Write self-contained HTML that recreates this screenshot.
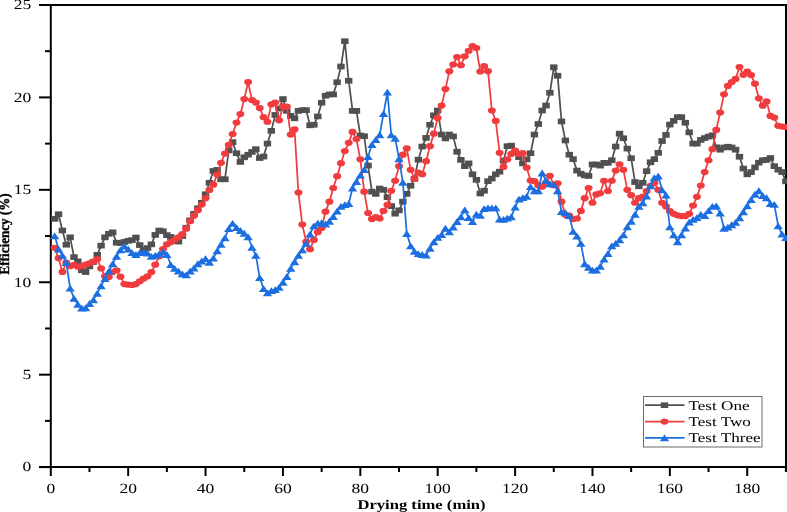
<!DOCTYPE html>
<html><head><meta charset="utf-8"><style>
html,body{margin:0;padding:0;background:#fff;}
svg{display:block;}
svg{will-change:transform;}
text{text-rendering:geometricPrecision;}
</style></head><body>
<svg width="787" height="512" viewBox="0 0 787 512">
<rect width="787" height="512" fill="#fff"/>
<g stroke="#000" stroke-width="2" fill="none" shape-rendering="auto">
<line x1="50.8" y1="4" x2="50.8" y2="468.1"/>
<line x1="39" y1="467.1" x2="787" y2="467.1"/>
<line x1="39" y1="5" x2="787" y2="5"/>
<line x1="786" y1="4" x2="786" y2="468.1"/>
<line x1="39" y1="467.10" x2="50.8" y2="467.10"/>
<line x1="39" y1="374.68" x2="50.8" y2="374.68"/>
<line x1="39" y1="282.25" x2="50.8" y2="282.25"/>
<line x1="39" y1="189.83" x2="50.8" y2="189.83"/>
<line x1="39" y1="97.40" x2="50.8" y2="97.40"/>
<line x1="39" y1="4.98" x2="50.8" y2="4.98"/>
<line x1="45" y1="420.89" x2="50.8" y2="420.89"/>
<line x1="45" y1="328.46" x2="50.8" y2="328.46"/>
<line x1="45" y1="236.04" x2="50.8" y2="236.04"/>
<line x1="45" y1="143.61" x2="50.8" y2="143.61"/>
<line x1="45" y1="51.19" x2="50.8" y2="51.19"/>
<line x1="50.80" y1="467.1" x2="50.80" y2="476"/>
<line x1="128.18" y1="467.1" x2="128.18" y2="476"/>
<line x1="205.56" y1="467.1" x2="205.56" y2="476"/>
<line x1="282.94" y1="467.1" x2="282.94" y2="476"/>
<line x1="360.32" y1="467.1" x2="360.32" y2="476"/>
<line x1="437.70" y1="467.1" x2="437.70" y2="476"/>
<line x1="515.08" y1="467.1" x2="515.08" y2="476"/>
<line x1="592.46" y1="467.1" x2="592.46" y2="476"/>
<line x1="669.84" y1="467.1" x2="669.84" y2="476"/>
<line x1="747.22" y1="467.1" x2="747.22" y2="476"/>
<line x1="89.49" y1="467.1" x2="89.49" y2="472"/>
<line x1="166.87" y1="467.1" x2="166.87" y2="472"/>
<line x1="244.25" y1="467.1" x2="244.25" y2="472"/>
<line x1="321.63" y1="467.1" x2="321.63" y2="472"/>
<line x1="399.01" y1="467.1" x2="399.01" y2="472"/>
<line x1="476.39" y1="467.1" x2="476.39" y2="472"/>
<line x1="553.77" y1="467.1" x2="553.77" y2="472"/>
<line x1="631.15" y1="467.1" x2="631.15" y2="472"/>
<line x1="708.53" y1="467.1" x2="708.53" y2="472"/>
<line x1="785.91" y1="467.1" x2="785.91" y2="472"/>
</g>
<g font-family="Liberation Serif" font-size="14" fill="#000">
<text transform="translate(31.3,471.40) scale(1.25,1)" text-anchor="end">0</text>
<text transform="translate(31.3,378.98) scale(1.25,1)" text-anchor="end">5</text>
<text transform="translate(31.3,286.55) scale(1.25,1)" text-anchor="end">10</text>
<text transform="translate(31.3,194.13) scale(1.25,1)" text-anchor="end">15</text>
<text transform="translate(31.3,101.70) scale(1.25,1)" text-anchor="end">20</text>
<text transform="translate(31.3,9.28) scale(1.25,1)" text-anchor="end">25</text>
<text transform="translate(50.80,492.6) scale(1.25,1)" text-anchor="middle">0</text>
<text transform="translate(128.18,492.6) scale(1.25,1)" text-anchor="middle">20</text>
<text transform="translate(205.56,492.6) scale(1.25,1)" text-anchor="middle">40</text>
<text transform="translate(282.94,492.6) scale(1.25,1)" text-anchor="middle">60</text>
<text transform="translate(360.32,492.6) scale(1.25,1)" text-anchor="middle">80</text>
<text transform="translate(437.70,492.6) scale(1.25,1)" text-anchor="middle">100</text>
<text transform="translate(515.08,492.6) scale(1.25,1)" text-anchor="middle">120</text>
<text transform="translate(592.46,492.6) scale(1.25,1)" text-anchor="middle">140</text>
<text transform="translate(669.84,492.6) scale(1.25,1)" text-anchor="middle">160</text>
<text transform="translate(747.22,492.6) scale(1.25,1)" text-anchor="middle">180</text>
</g>
<text transform="translate(421.5,508.5) scale(1.24,1)" text-anchor="middle" font-family="Liberation Serif" font-weight="bold" font-size="13.4">Drying time (min)</text>
<text transform="translate(9.3,274.4) rotate(-90) scale(1,1.08)" font-family="Liberation Serif" font-weight="bold" font-size="13.1" stroke="#000" stroke-width="0.35">Efficiency (%)</text>
<polyline points="54.67,218.85 58.54,214.23 62.41,230.49 66.28,244.73 70.14,237.33 74.01,257.11 77.88,261.36 81.75,270.23 85.62,272.08 89.49,266.35 93.36,261.92 97.23,254.89 101.10,245.65 104.97,237.33 108.84,233.82 112.70,232.34 116.57,242.69 120.44,243.06 124.31,241.95 128.18,240.84 132.05,240.10 135.92,237.52 139.79,245.10 143.66,249.90 147.53,248.05 151.39,244.36 155.26,234.93 159.13,230.49 163.00,231.23 166.87,235.11 170.74,236.96 174.61,240.66 178.48,241.58 182.35,236.04 186.22,227.72 190.08,220.33 193.95,213.86 197.82,208.31 201.69,202.76 205.56,194.26 209.43,182.80 213.30,170.97 217.17,169.86 221.04,179.29 224.91,179.29 228.77,150.45 232.64,142.13 236.51,153.22 240.38,161.91 244.25,157.29 248.12,154.70 251.99,151.93 255.86,149.16 259.73,158.03 263.60,156.55 267.46,143.61 271.33,130.86 275.20,114.96 279.07,108.49 282.94,99.06 286.81,110.89 290.68,115.89 294.55,118.29 298.42,110.89 302.29,110.15 306.15,110.15 310.02,125.31 313.89,124.76 317.76,116.44 321.63,102.76 325.50,95.74 329.37,94.44 333.24,94.44 337.11,82.24 340.98,66.53 344.84,41.21 348.71,80.76 352.58,110.89 356.45,110.89 360.32,135.48 364.19,136.22 368.06,165.61 371.93,191.67 375.80,193.89 379.67,188.53 383.53,189.83 387.40,197.22 391.27,206.09 395.14,213.67 399.01,210.34 402.88,201.66 406.75,193.89 410.62,185.76 414.49,178.92 418.36,159.69 422.22,146.57 426.09,137.88 429.96,124.76 433.83,115.33 437.70,110.52 441.57,134.55 445.44,138.44 449.31,134.55 453.18,136.40 457.05,151.75 460.91,159.88 464.78,166.16 468.65,163.39 472.52,174.30 476.39,179.84 480.26,193.52 484.13,190.75 488.00,181.14 491.87,178.55 495.74,174.30 499.60,171.71 503.47,160.62 507.34,146.20 511.21,145.65 515.08,152.49 518.95,157.11 522.82,163.39 526.69,159.32 530.56,153.22 534.42,134.55 538.29,124.02 542.16,110.52 546.03,105.53 549.90,92.78 553.77,67.27 557.64,75.77 561.51,121.43 565.38,140.47 569.25,154.70 573.12,159.14 576.98,170.60 580.85,173.74 584.72,175.41 588.59,175.96 592.46,164.50 596.33,164.50 600.20,165.61 604.07,162.84 607.94,162.84 611.80,160.25 615.67,146.57 619.54,133.63 623.41,138.25 627.28,148.60 631.15,158.22 635.02,182.06 638.89,186.31 642.76,182.80 646.63,171.16 650.50,162.28 654.36,159.14 658.23,152.86 662.10,141.02 665.97,134.92 669.84,124.57 673.71,120.88 677.58,117.18 681.45,117.18 685.32,122.72 689.18,132.34 693.05,143.61 696.92,143.61 700.79,139.92 704.66,138.07 708.53,136.59 712.40,135.29 716.27,147.31 720.14,149.71 724.01,147.49 727.88,146.75 731.74,147.49 735.61,149.71 739.48,156.74 743.35,168.57 747.22,174.30 751.09,172.08 754.96,167.46 758.83,162.65 762.70,160.25 766.56,159.88 770.43,158.03 774.30,166.16 778.17,169.68 782.04,172.08 785.91,181.32" fill="none" stroke="#505050" stroke-width="1.75" stroke-linejoin="round"/>
<rect x="50.97" y="216.00" width="7.4" height="5.7" fill="#505050"/>
<rect x="54.84" y="211.38" width="7.4" height="5.7" fill="#505050"/>
<rect x="58.71" y="227.64" width="7.4" height="5.7" fill="#505050"/>
<rect x="62.58" y="241.88" width="7.4" height="5.7" fill="#505050"/>
<rect x="66.44" y="234.48" width="7.4" height="5.7" fill="#505050"/>
<rect x="70.31" y="254.26" width="7.4" height="5.7" fill="#505050"/>
<rect x="74.18" y="258.51" width="7.4" height="5.7" fill="#505050"/>
<rect x="78.05" y="267.38" width="7.4" height="5.7" fill="#505050"/>
<rect x="81.92" y="269.23" width="7.4" height="5.7" fill="#505050"/>
<rect x="85.79" y="263.50" width="7.4" height="5.7" fill="#505050"/>
<rect x="89.66" y="259.07" width="7.4" height="5.7" fill="#505050"/>
<rect x="93.53" y="252.04" width="7.4" height="5.7" fill="#505050"/>
<rect x="97.40" y="242.80" width="7.4" height="5.7" fill="#505050"/>
<rect x="101.27" y="234.48" width="7.4" height="5.7" fill="#505050"/>
<rect x="105.14" y="230.97" width="7.4" height="5.7" fill="#505050"/>
<rect x="109.00" y="229.49" width="7.4" height="5.7" fill="#505050"/>
<rect x="112.87" y="239.84" width="7.4" height="5.7" fill="#505050"/>
<rect x="116.74" y="240.21" width="7.4" height="5.7" fill="#505050"/>
<rect x="120.61" y="239.10" width="7.4" height="5.7" fill="#505050"/>
<rect x="124.48" y="237.99" width="7.4" height="5.7" fill="#505050"/>
<rect x="128.35" y="237.25" width="7.4" height="5.7" fill="#505050"/>
<rect x="132.22" y="234.67" width="7.4" height="5.7" fill="#505050"/>
<rect x="136.09" y="242.25" width="7.4" height="5.7" fill="#505050"/>
<rect x="139.96" y="247.05" width="7.4" height="5.7" fill="#505050"/>
<rect x="143.83" y="245.20" width="7.4" height="5.7" fill="#505050"/>
<rect x="147.69" y="241.51" width="7.4" height="5.7" fill="#505050"/>
<rect x="151.56" y="232.08" width="7.4" height="5.7" fill="#505050"/>
<rect x="155.43" y="227.64" width="7.4" height="5.7" fill="#505050"/>
<rect x="159.30" y="228.38" width="7.4" height="5.7" fill="#505050"/>
<rect x="163.17" y="232.26" width="7.4" height="5.7" fill="#505050"/>
<rect x="167.04" y="234.11" width="7.4" height="5.7" fill="#505050"/>
<rect x="170.91" y="237.81" width="7.4" height="5.7" fill="#505050"/>
<rect x="174.78" y="238.73" width="7.4" height="5.7" fill="#505050"/>
<rect x="178.65" y="233.19" width="7.4" height="5.7" fill="#505050"/>
<rect x="182.52" y="224.87" width="7.4" height="5.7" fill="#505050"/>
<rect x="186.38" y="217.48" width="7.4" height="5.7" fill="#505050"/>
<rect x="190.25" y="211.01" width="7.4" height="5.7" fill="#505050"/>
<rect x="194.12" y="205.46" width="7.4" height="5.7" fill="#505050"/>
<rect x="197.99" y="199.91" width="7.4" height="5.7" fill="#505050"/>
<rect x="201.86" y="191.41" width="7.4" height="5.7" fill="#505050"/>
<rect x="205.73" y="179.95" width="7.4" height="5.7" fill="#505050"/>
<rect x="209.60" y="168.12" width="7.4" height="5.7" fill="#505050"/>
<rect x="213.47" y="167.01" width="7.4" height="5.7" fill="#505050"/>
<rect x="217.34" y="176.44" width="7.4" height="5.7" fill="#505050"/>
<rect x="221.21" y="176.44" width="7.4" height="5.7" fill="#505050"/>
<rect x="225.07" y="147.60" width="7.4" height="5.7" fill="#505050"/>
<rect x="228.94" y="139.28" width="7.4" height="5.7" fill="#505050"/>
<rect x="232.81" y="150.37" width="7.4" height="5.7" fill="#505050"/>
<rect x="236.68" y="159.06" width="7.4" height="5.7" fill="#505050"/>
<rect x="240.55" y="154.44" width="7.4" height="5.7" fill="#505050"/>
<rect x="244.42" y="151.85" width="7.4" height="5.7" fill="#505050"/>
<rect x="248.29" y="149.08" width="7.4" height="5.7" fill="#505050"/>
<rect x="252.16" y="146.31" width="7.4" height="5.7" fill="#505050"/>
<rect x="256.03" y="155.18" width="7.4" height="5.7" fill="#505050"/>
<rect x="259.90" y="153.70" width="7.4" height="5.7" fill="#505050"/>
<rect x="263.76" y="140.76" width="7.4" height="5.7" fill="#505050"/>
<rect x="267.63" y="128.01" width="7.4" height="5.7" fill="#505050"/>
<rect x="271.50" y="112.11" width="7.4" height="5.7" fill="#505050"/>
<rect x="275.37" y="105.64" width="7.4" height="5.7" fill="#505050"/>
<rect x="279.24" y="96.21" width="7.4" height="5.7" fill="#505050"/>
<rect x="283.11" y="108.04" width="7.4" height="5.7" fill="#505050"/>
<rect x="286.98" y="113.04" width="7.4" height="5.7" fill="#505050"/>
<rect x="290.85" y="115.44" width="7.4" height="5.7" fill="#505050"/>
<rect x="294.72" y="108.04" width="7.4" height="5.7" fill="#505050"/>
<rect x="298.59" y="107.30" width="7.4" height="5.7" fill="#505050"/>
<rect x="302.45" y="107.30" width="7.4" height="5.7" fill="#505050"/>
<rect x="306.32" y="122.46" width="7.4" height="5.7" fill="#505050"/>
<rect x="310.19" y="121.91" width="7.4" height="5.7" fill="#505050"/>
<rect x="314.06" y="113.59" width="7.4" height="5.7" fill="#505050"/>
<rect x="317.93" y="99.91" width="7.4" height="5.7" fill="#505050"/>
<rect x="321.80" y="92.89" width="7.4" height="5.7" fill="#505050"/>
<rect x="325.67" y="91.59" width="7.4" height="5.7" fill="#505050"/>
<rect x="329.54" y="91.59" width="7.4" height="5.7" fill="#505050"/>
<rect x="333.41" y="79.39" width="7.4" height="5.7" fill="#505050"/>
<rect x="337.28" y="63.68" width="7.4" height="5.7" fill="#505050"/>
<rect x="341.14" y="38.36" width="7.4" height="5.7" fill="#505050"/>
<rect x="345.01" y="77.91" width="7.4" height="5.7" fill="#505050"/>
<rect x="348.88" y="108.04" width="7.4" height="5.7" fill="#505050"/>
<rect x="352.75" y="108.04" width="7.4" height="5.7" fill="#505050"/>
<rect x="356.62" y="132.63" width="7.4" height="5.7" fill="#505050"/>
<rect x="360.49" y="133.37" width="7.4" height="5.7" fill="#505050"/>
<rect x="364.36" y="162.76" width="7.4" height="5.7" fill="#505050"/>
<rect x="368.23" y="188.82" width="7.4" height="5.7" fill="#505050"/>
<rect x="372.10" y="191.04" width="7.4" height="5.7" fill="#505050"/>
<rect x="375.97" y="185.68" width="7.4" height="5.7" fill="#505050"/>
<rect x="379.83" y="186.98" width="7.4" height="5.7" fill="#505050"/>
<rect x="383.70" y="194.37" width="7.4" height="5.7" fill="#505050"/>
<rect x="387.57" y="203.24" width="7.4" height="5.7" fill="#505050"/>
<rect x="391.44" y="210.82" width="7.4" height="5.7" fill="#505050"/>
<rect x="395.31" y="207.49" width="7.4" height="5.7" fill="#505050"/>
<rect x="399.18" y="198.81" width="7.4" height="5.7" fill="#505050"/>
<rect x="403.05" y="191.04" width="7.4" height="5.7" fill="#505050"/>
<rect x="406.92" y="182.91" width="7.4" height="5.7" fill="#505050"/>
<rect x="410.79" y="176.07" width="7.4" height="5.7" fill="#505050"/>
<rect x="414.66" y="156.84" width="7.4" height="5.7" fill="#505050"/>
<rect x="418.52" y="143.72" width="7.4" height="5.7" fill="#505050"/>
<rect x="422.39" y="135.03" width="7.4" height="5.7" fill="#505050"/>
<rect x="426.26" y="121.91" width="7.4" height="5.7" fill="#505050"/>
<rect x="430.13" y="112.48" width="7.4" height="5.7" fill="#505050"/>
<rect x="434.00" y="107.67" width="7.4" height="5.7" fill="#505050"/>
<rect x="437.87" y="131.70" width="7.4" height="5.7" fill="#505050"/>
<rect x="441.74" y="135.59" width="7.4" height="5.7" fill="#505050"/>
<rect x="445.61" y="131.70" width="7.4" height="5.7" fill="#505050"/>
<rect x="449.48" y="133.55" width="7.4" height="5.7" fill="#505050"/>
<rect x="453.35" y="148.90" width="7.4" height="5.7" fill="#505050"/>
<rect x="457.21" y="157.03" width="7.4" height="5.7" fill="#505050"/>
<rect x="461.08" y="163.31" width="7.4" height="5.7" fill="#505050"/>
<rect x="464.95" y="160.54" width="7.4" height="5.7" fill="#505050"/>
<rect x="468.82" y="171.45" width="7.4" height="5.7" fill="#505050"/>
<rect x="472.69" y="176.99" width="7.4" height="5.7" fill="#505050"/>
<rect x="476.56" y="190.67" width="7.4" height="5.7" fill="#505050"/>
<rect x="480.43" y="187.90" width="7.4" height="5.7" fill="#505050"/>
<rect x="484.30" y="178.29" width="7.4" height="5.7" fill="#505050"/>
<rect x="488.17" y="175.70" width="7.4" height="5.7" fill="#505050"/>
<rect x="492.04" y="171.45" width="7.4" height="5.7" fill="#505050"/>
<rect x="495.90" y="168.86" width="7.4" height="5.7" fill="#505050"/>
<rect x="499.77" y="157.77" width="7.4" height="5.7" fill="#505050"/>
<rect x="503.64" y="143.35" width="7.4" height="5.7" fill="#505050"/>
<rect x="507.51" y="142.80" width="7.4" height="5.7" fill="#505050"/>
<rect x="511.38" y="149.64" width="7.4" height="5.7" fill="#505050"/>
<rect x="515.25" y="154.26" width="7.4" height="5.7" fill="#505050"/>
<rect x="519.12" y="160.54" width="7.4" height="5.7" fill="#505050"/>
<rect x="522.99" y="156.47" width="7.4" height="5.7" fill="#505050"/>
<rect x="526.86" y="150.37" width="7.4" height="5.7" fill="#505050"/>
<rect x="530.72" y="131.70" width="7.4" height="5.7" fill="#505050"/>
<rect x="534.59" y="121.17" width="7.4" height="5.7" fill="#505050"/>
<rect x="538.46" y="107.67" width="7.4" height="5.7" fill="#505050"/>
<rect x="542.33" y="102.68" width="7.4" height="5.7" fill="#505050"/>
<rect x="546.20" y="89.93" width="7.4" height="5.7" fill="#505050"/>
<rect x="550.07" y="64.42" width="7.4" height="5.7" fill="#505050"/>
<rect x="553.94" y="72.92" width="7.4" height="5.7" fill="#505050"/>
<rect x="557.81" y="118.58" width="7.4" height="5.7" fill="#505050"/>
<rect x="561.68" y="137.62" width="7.4" height="5.7" fill="#505050"/>
<rect x="565.55" y="151.85" width="7.4" height="5.7" fill="#505050"/>
<rect x="569.41" y="156.29" width="7.4" height="5.7" fill="#505050"/>
<rect x="573.28" y="167.75" width="7.4" height="5.7" fill="#505050"/>
<rect x="577.15" y="170.89" width="7.4" height="5.7" fill="#505050"/>
<rect x="581.02" y="172.56" width="7.4" height="5.7" fill="#505050"/>
<rect x="584.89" y="173.11" width="7.4" height="5.7" fill="#505050"/>
<rect x="588.76" y="161.65" width="7.4" height="5.7" fill="#505050"/>
<rect x="592.63" y="161.65" width="7.4" height="5.7" fill="#505050"/>
<rect x="596.50" y="162.76" width="7.4" height="5.7" fill="#505050"/>
<rect x="600.37" y="159.99" width="7.4" height="5.7" fill="#505050"/>
<rect x="604.24" y="159.99" width="7.4" height="5.7" fill="#505050"/>
<rect x="608.10" y="157.40" width="7.4" height="5.7" fill="#505050"/>
<rect x="611.97" y="143.72" width="7.4" height="5.7" fill="#505050"/>
<rect x="615.84" y="130.78" width="7.4" height="5.7" fill="#505050"/>
<rect x="619.71" y="135.40" width="7.4" height="5.7" fill="#505050"/>
<rect x="623.58" y="145.75" width="7.4" height="5.7" fill="#505050"/>
<rect x="627.45" y="155.37" width="7.4" height="5.7" fill="#505050"/>
<rect x="631.32" y="179.21" width="7.4" height="5.7" fill="#505050"/>
<rect x="635.19" y="183.46" width="7.4" height="5.7" fill="#505050"/>
<rect x="639.06" y="179.95" width="7.4" height="5.7" fill="#505050"/>
<rect x="642.93" y="168.31" width="7.4" height="5.7" fill="#505050"/>
<rect x="646.79" y="159.43" width="7.4" height="5.7" fill="#505050"/>
<rect x="650.66" y="156.29" width="7.4" height="5.7" fill="#505050"/>
<rect x="654.53" y="150.01" width="7.4" height="5.7" fill="#505050"/>
<rect x="658.40" y="138.17" width="7.4" height="5.7" fill="#505050"/>
<rect x="662.27" y="132.07" width="7.4" height="5.7" fill="#505050"/>
<rect x="666.14" y="121.72" width="7.4" height="5.7" fill="#505050"/>
<rect x="670.01" y="118.03" width="7.4" height="5.7" fill="#505050"/>
<rect x="673.88" y="114.33" width="7.4" height="5.7" fill="#505050"/>
<rect x="677.75" y="114.33" width="7.4" height="5.7" fill="#505050"/>
<rect x="681.62" y="119.87" width="7.4" height="5.7" fill="#505050"/>
<rect x="685.48" y="129.49" width="7.4" height="5.7" fill="#505050"/>
<rect x="689.35" y="140.76" width="7.4" height="5.7" fill="#505050"/>
<rect x="693.22" y="140.76" width="7.4" height="5.7" fill="#505050"/>
<rect x="697.09" y="137.07" width="7.4" height="5.7" fill="#505050"/>
<rect x="700.96" y="135.22" width="7.4" height="5.7" fill="#505050"/>
<rect x="704.83" y="133.74" width="7.4" height="5.7" fill="#505050"/>
<rect x="708.70" y="132.44" width="7.4" height="5.7" fill="#505050"/>
<rect x="712.57" y="144.46" width="7.4" height="5.7" fill="#505050"/>
<rect x="716.44" y="146.86" width="7.4" height="5.7" fill="#505050"/>
<rect x="720.31" y="144.64" width="7.4" height="5.7" fill="#505050"/>
<rect x="724.17" y="143.90" width="7.4" height="5.7" fill="#505050"/>
<rect x="728.04" y="144.64" width="7.4" height="5.7" fill="#505050"/>
<rect x="731.91" y="146.86" width="7.4" height="5.7" fill="#505050"/>
<rect x="735.78" y="153.89" width="7.4" height="5.7" fill="#505050"/>
<rect x="739.65" y="165.72" width="7.4" height="5.7" fill="#505050"/>
<rect x="743.52" y="171.45" width="7.4" height="5.7" fill="#505050"/>
<rect x="747.39" y="169.23" width="7.4" height="5.7" fill="#505050"/>
<rect x="751.26" y="164.61" width="7.4" height="5.7" fill="#505050"/>
<rect x="755.13" y="159.80" width="7.4" height="5.7" fill="#505050"/>
<rect x="759.00" y="157.40" width="7.4" height="5.7" fill="#505050"/>
<rect x="762.86" y="157.03" width="7.4" height="5.7" fill="#505050"/>
<rect x="766.73" y="155.18" width="7.4" height="5.7" fill="#505050"/>
<rect x="770.60" y="163.31" width="7.4" height="5.7" fill="#505050"/>
<rect x="774.47" y="166.83" width="7.4" height="5.7" fill="#505050"/>
<rect x="778.34" y="169.23" width="7.4" height="5.7" fill="#505050"/>
<rect x="782.21" y="178.47" width="7.4" height="5.7" fill="#505050"/>
<polyline points="54.67,247.87 58.54,258.22 62.41,271.90 66.28,262.66 70.14,266.17 74.01,264.87 77.88,266.72 81.75,266.17 85.62,264.69 89.49,263.40 93.36,261.55 97.23,259.14 101.10,268.39 104.97,276.33 108.84,277.07 112.70,272.08 116.57,270.23 120.44,276.70 124.31,284.10 128.18,284.65 132.05,285.02 135.92,284.10 139.79,281.33 143.66,278.55 147.53,276.33 151.39,272.08 155.26,264.69 159.13,256.37 163.00,248.98 166.87,244.36 170.74,242.14 174.61,239.73 178.48,237.33 182.35,234.19 186.22,228.64 190.08,221.25 193.95,215.70 197.82,210.16 201.69,204.61 205.56,198.33 209.43,190.01 213.30,184.65 217.17,174.48 221.04,162.84 224.91,153.59 228.77,144.91 232.64,134.00 236.51,122.54 240.38,114.04 244.25,99.06 248.12,82.06 251.99,99.99 255.86,102.58 259.73,108.12 263.60,117.18 267.46,121.80 271.33,104.42 275.20,102.58 279.07,120.32 282.94,106.27 286.81,106.64 290.68,134.55 294.55,129.38 298.42,192.60 302.29,224.58 306.15,241.77 310.02,249.16 313.89,239.92 317.76,232.16 321.63,228.09 325.50,211.64 329.37,201.66 333.24,187.98 337.11,176.15 340.98,163.21 344.84,151.01 348.71,142.87 352.58,131.97 356.45,138.99 360.32,159.32 364.19,191.67 368.06,213.12 371.93,219.03 375.80,217.18 379.67,218.48 383.53,210.90 387.40,204.80 391.27,190.75 395.14,180.77 399.01,166.16 402.88,154.70 406.75,148.42 410.62,169.86 414.49,178.73 418.36,172.63 422.22,174.30 426.09,161.17 429.96,146.20 433.83,133.63 437.70,118.10 441.57,105.53 445.44,89.08 449.31,71.34 453.18,64.50 457.05,57.10 460.91,65.24 464.78,56.36 468.65,50.82 472.52,46.20 476.39,48.05 480.26,71.52 484.13,66.16 488.00,71.15 491.87,110.52 495.74,120.88 499.60,152.86 503.47,166.90 507.34,159.32 511.21,153.96 515.08,150.64 518.95,153.96 522.82,153.22 526.69,167.64 530.56,180.58 534.42,181.14 538.29,185.20 542.16,186.68 546.03,182.62 549.90,175.78 553.77,185.20 557.64,183.36 561.51,201.66 565.38,214.78 569.25,215.70 573.12,219.03 576.98,218.48 580.85,210.90 584.72,198.14 588.59,187.98 592.46,202.76 596.33,194.45 600.20,193.34 604.07,180.77 607.94,191.12 611.80,180.77 615.67,170.60 619.54,164.32 623.41,169.86 627.28,189.83 631.15,195.19 635.02,202.76 638.89,198.14 642.76,196.66 646.63,191.12 650.50,185.76 654.36,182.99 658.23,189.83 662.10,202.76 665.97,206.46 669.84,211.08 673.71,213.86 677.58,215.33 681.45,216.07 685.32,216.07 689.18,213.86 693.05,205.54 696.92,196.85 700.79,185.57 704.66,172.08 708.53,160.25 712.40,149.16 716.27,129.93 720.14,112.56 724.01,94.26 727.88,85.94 731.74,82.06 735.61,78.92 739.48,67.08 743.35,74.85 747.22,71.52 751.09,75.03 754.96,83.72 758.83,98.32 762.70,105.72 766.56,101.47 770.43,115.89 774.30,117.55 778.17,125.87 782.04,126.61 785.91,126.98" fill="none" stroke="#f03c3f" stroke-width="1.75" stroke-linejoin="round"/>
<ellipse cx="54.67" cy="247.87" rx="4.0" ry="3.1" fill="#f03c3f"/>
<ellipse cx="58.54" cy="258.22" rx="4.0" ry="3.1" fill="#f03c3f"/>
<ellipse cx="62.41" cy="271.90" rx="4.0" ry="3.1" fill="#f03c3f"/>
<ellipse cx="66.28" cy="262.66" rx="4.0" ry="3.1" fill="#f03c3f"/>
<ellipse cx="70.14" cy="266.17" rx="4.0" ry="3.1" fill="#f03c3f"/>
<ellipse cx="74.01" cy="264.87" rx="4.0" ry="3.1" fill="#f03c3f"/>
<ellipse cx="77.88" cy="266.72" rx="4.0" ry="3.1" fill="#f03c3f"/>
<ellipse cx="81.75" cy="266.17" rx="4.0" ry="3.1" fill="#f03c3f"/>
<ellipse cx="85.62" cy="264.69" rx="4.0" ry="3.1" fill="#f03c3f"/>
<ellipse cx="89.49" cy="263.40" rx="4.0" ry="3.1" fill="#f03c3f"/>
<ellipse cx="93.36" cy="261.55" rx="4.0" ry="3.1" fill="#f03c3f"/>
<ellipse cx="97.23" cy="259.14" rx="4.0" ry="3.1" fill="#f03c3f"/>
<ellipse cx="101.10" cy="268.39" rx="4.0" ry="3.1" fill="#f03c3f"/>
<ellipse cx="104.97" cy="276.33" rx="4.0" ry="3.1" fill="#f03c3f"/>
<ellipse cx="108.84" cy="277.07" rx="4.0" ry="3.1" fill="#f03c3f"/>
<ellipse cx="112.70" cy="272.08" rx="4.0" ry="3.1" fill="#f03c3f"/>
<ellipse cx="116.57" cy="270.23" rx="4.0" ry="3.1" fill="#f03c3f"/>
<ellipse cx="120.44" cy="276.70" rx="4.0" ry="3.1" fill="#f03c3f"/>
<ellipse cx="124.31" cy="284.10" rx="4.0" ry="3.1" fill="#f03c3f"/>
<ellipse cx="128.18" cy="284.65" rx="4.0" ry="3.1" fill="#f03c3f"/>
<ellipse cx="132.05" cy="285.02" rx="4.0" ry="3.1" fill="#f03c3f"/>
<ellipse cx="135.92" cy="284.10" rx="4.0" ry="3.1" fill="#f03c3f"/>
<ellipse cx="139.79" cy="281.33" rx="4.0" ry="3.1" fill="#f03c3f"/>
<ellipse cx="143.66" cy="278.55" rx="4.0" ry="3.1" fill="#f03c3f"/>
<ellipse cx="147.53" cy="276.33" rx="4.0" ry="3.1" fill="#f03c3f"/>
<ellipse cx="151.39" cy="272.08" rx="4.0" ry="3.1" fill="#f03c3f"/>
<ellipse cx="155.26" cy="264.69" rx="4.0" ry="3.1" fill="#f03c3f"/>
<ellipse cx="159.13" cy="256.37" rx="4.0" ry="3.1" fill="#f03c3f"/>
<ellipse cx="163.00" cy="248.98" rx="4.0" ry="3.1" fill="#f03c3f"/>
<ellipse cx="166.87" cy="244.36" rx="4.0" ry="3.1" fill="#f03c3f"/>
<ellipse cx="170.74" cy="242.14" rx="4.0" ry="3.1" fill="#f03c3f"/>
<ellipse cx="174.61" cy="239.73" rx="4.0" ry="3.1" fill="#f03c3f"/>
<ellipse cx="178.48" cy="237.33" rx="4.0" ry="3.1" fill="#f03c3f"/>
<ellipse cx="182.35" cy="234.19" rx="4.0" ry="3.1" fill="#f03c3f"/>
<ellipse cx="186.22" cy="228.64" rx="4.0" ry="3.1" fill="#f03c3f"/>
<ellipse cx="190.08" cy="221.25" rx="4.0" ry="3.1" fill="#f03c3f"/>
<ellipse cx="193.95" cy="215.70" rx="4.0" ry="3.1" fill="#f03c3f"/>
<ellipse cx="197.82" cy="210.16" rx="4.0" ry="3.1" fill="#f03c3f"/>
<ellipse cx="201.69" cy="204.61" rx="4.0" ry="3.1" fill="#f03c3f"/>
<ellipse cx="205.56" cy="198.33" rx="4.0" ry="3.1" fill="#f03c3f"/>
<ellipse cx="209.43" cy="190.01" rx="4.0" ry="3.1" fill="#f03c3f"/>
<ellipse cx="213.30" cy="184.65" rx="4.0" ry="3.1" fill="#f03c3f"/>
<ellipse cx="217.17" cy="174.48" rx="4.0" ry="3.1" fill="#f03c3f"/>
<ellipse cx="221.04" cy="162.84" rx="4.0" ry="3.1" fill="#f03c3f"/>
<ellipse cx="224.91" cy="153.59" rx="4.0" ry="3.1" fill="#f03c3f"/>
<ellipse cx="228.77" cy="144.91" rx="4.0" ry="3.1" fill="#f03c3f"/>
<ellipse cx="232.64" cy="134.00" rx="4.0" ry="3.1" fill="#f03c3f"/>
<ellipse cx="236.51" cy="122.54" rx="4.0" ry="3.1" fill="#f03c3f"/>
<ellipse cx="240.38" cy="114.04" rx="4.0" ry="3.1" fill="#f03c3f"/>
<ellipse cx="244.25" cy="99.06" rx="4.0" ry="3.1" fill="#f03c3f"/>
<ellipse cx="248.12" cy="82.06" rx="4.0" ry="3.1" fill="#f03c3f"/>
<ellipse cx="251.99" cy="99.99" rx="4.0" ry="3.1" fill="#f03c3f"/>
<ellipse cx="255.86" cy="102.58" rx="4.0" ry="3.1" fill="#f03c3f"/>
<ellipse cx="259.73" cy="108.12" rx="4.0" ry="3.1" fill="#f03c3f"/>
<ellipse cx="263.60" cy="117.18" rx="4.0" ry="3.1" fill="#f03c3f"/>
<ellipse cx="267.46" cy="121.80" rx="4.0" ry="3.1" fill="#f03c3f"/>
<ellipse cx="271.33" cy="104.42" rx="4.0" ry="3.1" fill="#f03c3f"/>
<ellipse cx="275.20" cy="102.58" rx="4.0" ry="3.1" fill="#f03c3f"/>
<ellipse cx="279.07" cy="120.32" rx="4.0" ry="3.1" fill="#f03c3f"/>
<ellipse cx="282.94" cy="106.27" rx="4.0" ry="3.1" fill="#f03c3f"/>
<ellipse cx="286.81" cy="106.64" rx="4.0" ry="3.1" fill="#f03c3f"/>
<ellipse cx="290.68" cy="134.55" rx="4.0" ry="3.1" fill="#f03c3f"/>
<ellipse cx="294.55" cy="129.38" rx="4.0" ry="3.1" fill="#f03c3f"/>
<ellipse cx="298.42" cy="192.60" rx="4.0" ry="3.1" fill="#f03c3f"/>
<ellipse cx="302.29" cy="224.58" rx="4.0" ry="3.1" fill="#f03c3f"/>
<ellipse cx="306.15" cy="241.77" rx="4.0" ry="3.1" fill="#f03c3f"/>
<ellipse cx="310.02" cy="249.16" rx="4.0" ry="3.1" fill="#f03c3f"/>
<ellipse cx="313.89" cy="239.92" rx="4.0" ry="3.1" fill="#f03c3f"/>
<ellipse cx="317.76" cy="232.16" rx="4.0" ry="3.1" fill="#f03c3f"/>
<ellipse cx="321.63" cy="228.09" rx="4.0" ry="3.1" fill="#f03c3f"/>
<ellipse cx="325.50" cy="211.64" rx="4.0" ry="3.1" fill="#f03c3f"/>
<ellipse cx="329.37" cy="201.66" rx="4.0" ry="3.1" fill="#f03c3f"/>
<ellipse cx="333.24" cy="187.98" rx="4.0" ry="3.1" fill="#f03c3f"/>
<ellipse cx="337.11" cy="176.15" rx="4.0" ry="3.1" fill="#f03c3f"/>
<ellipse cx="340.98" cy="163.21" rx="4.0" ry="3.1" fill="#f03c3f"/>
<ellipse cx="344.84" cy="151.01" rx="4.0" ry="3.1" fill="#f03c3f"/>
<ellipse cx="348.71" cy="142.87" rx="4.0" ry="3.1" fill="#f03c3f"/>
<ellipse cx="352.58" cy="131.97" rx="4.0" ry="3.1" fill="#f03c3f"/>
<ellipse cx="356.45" cy="138.99" rx="4.0" ry="3.1" fill="#f03c3f"/>
<ellipse cx="360.32" cy="159.32" rx="4.0" ry="3.1" fill="#f03c3f"/>
<ellipse cx="364.19" cy="191.67" rx="4.0" ry="3.1" fill="#f03c3f"/>
<ellipse cx="368.06" cy="213.12" rx="4.0" ry="3.1" fill="#f03c3f"/>
<ellipse cx="371.93" cy="219.03" rx="4.0" ry="3.1" fill="#f03c3f"/>
<ellipse cx="375.80" cy="217.18" rx="4.0" ry="3.1" fill="#f03c3f"/>
<ellipse cx="379.67" cy="218.48" rx="4.0" ry="3.1" fill="#f03c3f"/>
<ellipse cx="383.53" cy="210.90" rx="4.0" ry="3.1" fill="#f03c3f"/>
<ellipse cx="387.40" cy="204.80" rx="4.0" ry="3.1" fill="#f03c3f"/>
<ellipse cx="391.27" cy="190.75" rx="4.0" ry="3.1" fill="#f03c3f"/>
<ellipse cx="395.14" cy="180.77" rx="4.0" ry="3.1" fill="#f03c3f"/>
<ellipse cx="399.01" cy="166.16" rx="4.0" ry="3.1" fill="#f03c3f"/>
<ellipse cx="402.88" cy="154.70" rx="4.0" ry="3.1" fill="#f03c3f"/>
<ellipse cx="406.75" cy="148.42" rx="4.0" ry="3.1" fill="#f03c3f"/>
<ellipse cx="410.62" cy="169.86" rx="4.0" ry="3.1" fill="#f03c3f"/>
<ellipse cx="414.49" cy="178.73" rx="4.0" ry="3.1" fill="#f03c3f"/>
<ellipse cx="418.36" cy="172.63" rx="4.0" ry="3.1" fill="#f03c3f"/>
<ellipse cx="422.22" cy="174.30" rx="4.0" ry="3.1" fill="#f03c3f"/>
<ellipse cx="426.09" cy="161.17" rx="4.0" ry="3.1" fill="#f03c3f"/>
<ellipse cx="429.96" cy="146.20" rx="4.0" ry="3.1" fill="#f03c3f"/>
<ellipse cx="433.83" cy="133.63" rx="4.0" ry="3.1" fill="#f03c3f"/>
<ellipse cx="437.70" cy="118.10" rx="4.0" ry="3.1" fill="#f03c3f"/>
<ellipse cx="441.57" cy="105.53" rx="4.0" ry="3.1" fill="#f03c3f"/>
<ellipse cx="445.44" cy="89.08" rx="4.0" ry="3.1" fill="#f03c3f"/>
<ellipse cx="449.31" cy="71.34" rx="4.0" ry="3.1" fill="#f03c3f"/>
<ellipse cx="453.18" cy="64.50" rx="4.0" ry="3.1" fill="#f03c3f"/>
<ellipse cx="457.05" cy="57.10" rx="4.0" ry="3.1" fill="#f03c3f"/>
<ellipse cx="460.91" cy="65.24" rx="4.0" ry="3.1" fill="#f03c3f"/>
<ellipse cx="464.78" cy="56.36" rx="4.0" ry="3.1" fill="#f03c3f"/>
<ellipse cx="468.65" cy="50.82" rx="4.0" ry="3.1" fill="#f03c3f"/>
<ellipse cx="472.52" cy="46.20" rx="4.0" ry="3.1" fill="#f03c3f"/>
<ellipse cx="476.39" cy="48.05" rx="4.0" ry="3.1" fill="#f03c3f"/>
<ellipse cx="480.26" cy="71.52" rx="4.0" ry="3.1" fill="#f03c3f"/>
<ellipse cx="484.13" cy="66.16" rx="4.0" ry="3.1" fill="#f03c3f"/>
<ellipse cx="488.00" cy="71.15" rx="4.0" ry="3.1" fill="#f03c3f"/>
<ellipse cx="491.87" cy="110.52" rx="4.0" ry="3.1" fill="#f03c3f"/>
<ellipse cx="495.74" cy="120.88" rx="4.0" ry="3.1" fill="#f03c3f"/>
<ellipse cx="499.60" cy="152.86" rx="4.0" ry="3.1" fill="#f03c3f"/>
<ellipse cx="503.47" cy="166.90" rx="4.0" ry="3.1" fill="#f03c3f"/>
<ellipse cx="507.34" cy="159.32" rx="4.0" ry="3.1" fill="#f03c3f"/>
<ellipse cx="511.21" cy="153.96" rx="4.0" ry="3.1" fill="#f03c3f"/>
<ellipse cx="515.08" cy="150.64" rx="4.0" ry="3.1" fill="#f03c3f"/>
<ellipse cx="518.95" cy="153.96" rx="4.0" ry="3.1" fill="#f03c3f"/>
<ellipse cx="522.82" cy="153.22" rx="4.0" ry="3.1" fill="#f03c3f"/>
<ellipse cx="526.69" cy="167.64" rx="4.0" ry="3.1" fill="#f03c3f"/>
<ellipse cx="530.56" cy="180.58" rx="4.0" ry="3.1" fill="#f03c3f"/>
<ellipse cx="534.42" cy="181.14" rx="4.0" ry="3.1" fill="#f03c3f"/>
<ellipse cx="538.29" cy="185.20" rx="4.0" ry="3.1" fill="#f03c3f"/>
<ellipse cx="542.16" cy="186.68" rx="4.0" ry="3.1" fill="#f03c3f"/>
<ellipse cx="546.03" cy="182.62" rx="4.0" ry="3.1" fill="#f03c3f"/>
<ellipse cx="549.90" cy="175.78" rx="4.0" ry="3.1" fill="#f03c3f"/>
<ellipse cx="553.77" cy="185.20" rx="4.0" ry="3.1" fill="#f03c3f"/>
<ellipse cx="557.64" cy="183.36" rx="4.0" ry="3.1" fill="#f03c3f"/>
<ellipse cx="561.51" cy="201.66" rx="4.0" ry="3.1" fill="#f03c3f"/>
<ellipse cx="565.38" cy="214.78" rx="4.0" ry="3.1" fill="#f03c3f"/>
<ellipse cx="569.25" cy="215.70" rx="4.0" ry="3.1" fill="#f03c3f"/>
<ellipse cx="573.12" cy="219.03" rx="4.0" ry="3.1" fill="#f03c3f"/>
<ellipse cx="576.98" cy="218.48" rx="4.0" ry="3.1" fill="#f03c3f"/>
<ellipse cx="580.85" cy="210.90" rx="4.0" ry="3.1" fill="#f03c3f"/>
<ellipse cx="584.72" cy="198.14" rx="4.0" ry="3.1" fill="#f03c3f"/>
<ellipse cx="588.59" cy="187.98" rx="4.0" ry="3.1" fill="#f03c3f"/>
<ellipse cx="592.46" cy="202.76" rx="4.0" ry="3.1" fill="#f03c3f"/>
<ellipse cx="596.33" cy="194.45" rx="4.0" ry="3.1" fill="#f03c3f"/>
<ellipse cx="600.20" cy="193.34" rx="4.0" ry="3.1" fill="#f03c3f"/>
<ellipse cx="604.07" cy="180.77" rx="4.0" ry="3.1" fill="#f03c3f"/>
<ellipse cx="607.94" cy="191.12" rx="4.0" ry="3.1" fill="#f03c3f"/>
<ellipse cx="611.80" cy="180.77" rx="4.0" ry="3.1" fill="#f03c3f"/>
<ellipse cx="615.67" cy="170.60" rx="4.0" ry="3.1" fill="#f03c3f"/>
<ellipse cx="619.54" cy="164.32" rx="4.0" ry="3.1" fill="#f03c3f"/>
<ellipse cx="623.41" cy="169.86" rx="4.0" ry="3.1" fill="#f03c3f"/>
<ellipse cx="627.28" cy="189.83" rx="4.0" ry="3.1" fill="#f03c3f"/>
<ellipse cx="631.15" cy="195.19" rx="4.0" ry="3.1" fill="#f03c3f"/>
<ellipse cx="635.02" cy="202.76" rx="4.0" ry="3.1" fill="#f03c3f"/>
<ellipse cx="638.89" cy="198.14" rx="4.0" ry="3.1" fill="#f03c3f"/>
<ellipse cx="642.76" cy="196.66" rx="4.0" ry="3.1" fill="#f03c3f"/>
<ellipse cx="646.63" cy="191.12" rx="4.0" ry="3.1" fill="#f03c3f"/>
<ellipse cx="650.50" cy="185.76" rx="4.0" ry="3.1" fill="#f03c3f"/>
<ellipse cx="654.36" cy="182.99" rx="4.0" ry="3.1" fill="#f03c3f"/>
<ellipse cx="658.23" cy="189.83" rx="4.0" ry="3.1" fill="#f03c3f"/>
<ellipse cx="662.10" cy="202.76" rx="4.0" ry="3.1" fill="#f03c3f"/>
<ellipse cx="665.97" cy="206.46" rx="4.0" ry="3.1" fill="#f03c3f"/>
<ellipse cx="669.84" cy="211.08" rx="4.0" ry="3.1" fill="#f03c3f"/>
<ellipse cx="673.71" cy="213.86" rx="4.0" ry="3.1" fill="#f03c3f"/>
<ellipse cx="677.58" cy="215.33" rx="4.0" ry="3.1" fill="#f03c3f"/>
<ellipse cx="681.45" cy="216.07" rx="4.0" ry="3.1" fill="#f03c3f"/>
<ellipse cx="685.32" cy="216.07" rx="4.0" ry="3.1" fill="#f03c3f"/>
<ellipse cx="689.18" cy="213.86" rx="4.0" ry="3.1" fill="#f03c3f"/>
<ellipse cx="693.05" cy="205.54" rx="4.0" ry="3.1" fill="#f03c3f"/>
<ellipse cx="696.92" cy="196.85" rx="4.0" ry="3.1" fill="#f03c3f"/>
<ellipse cx="700.79" cy="185.57" rx="4.0" ry="3.1" fill="#f03c3f"/>
<ellipse cx="704.66" cy="172.08" rx="4.0" ry="3.1" fill="#f03c3f"/>
<ellipse cx="708.53" cy="160.25" rx="4.0" ry="3.1" fill="#f03c3f"/>
<ellipse cx="712.40" cy="149.16" rx="4.0" ry="3.1" fill="#f03c3f"/>
<ellipse cx="716.27" cy="129.93" rx="4.0" ry="3.1" fill="#f03c3f"/>
<ellipse cx="720.14" cy="112.56" rx="4.0" ry="3.1" fill="#f03c3f"/>
<ellipse cx="724.01" cy="94.26" rx="4.0" ry="3.1" fill="#f03c3f"/>
<ellipse cx="727.88" cy="85.94" rx="4.0" ry="3.1" fill="#f03c3f"/>
<ellipse cx="731.74" cy="82.06" rx="4.0" ry="3.1" fill="#f03c3f"/>
<ellipse cx="735.61" cy="78.92" rx="4.0" ry="3.1" fill="#f03c3f"/>
<ellipse cx="739.48" cy="67.08" rx="4.0" ry="3.1" fill="#f03c3f"/>
<ellipse cx="743.35" cy="74.85" rx="4.0" ry="3.1" fill="#f03c3f"/>
<ellipse cx="747.22" cy="71.52" rx="4.0" ry="3.1" fill="#f03c3f"/>
<ellipse cx="751.09" cy="75.03" rx="4.0" ry="3.1" fill="#f03c3f"/>
<ellipse cx="754.96" cy="83.72" rx="4.0" ry="3.1" fill="#f03c3f"/>
<ellipse cx="758.83" cy="98.32" rx="4.0" ry="3.1" fill="#f03c3f"/>
<ellipse cx="762.70" cy="105.72" rx="4.0" ry="3.1" fill="#f03c3f"/>
<ellipse cx="766.56" cy="101.47" rx="4.0" ry="3.1" fill="#f03c3f"/>
<ellipse cx="770.43" cy="115.89" rx="4.0" ry="3.1" fill="#f03c3f"/>
<ellipse cx="774.30" cy="117.55" rx="4.0" ry="3.1" fill="#f03c3f"/>
<ellipse cx="778.17" cy="125.87" rx="4.0" ry="3.1" fill="#f03c3f"/>
<ellipse cx="782.04" cy="126.61" rx="4.0" ry="3.1" fill="#f03c3f"/>
<ellipse cx="785.91" cy="126.98" rx="4.0" ry="3.1" fill="#f03c3f"/>
<polyline points="54.67,235.85 58.54,248.98 62.41,255.45 66.28,262.66 70.14,288.17 74.01,298.33 77.88,304.43 81.75,308.13 85.62,307.76 89.49,303.51 93.36,299.81 97.23,293.34 101.10,285.95 104.97,278.55 108.84,271.16 112.70,263.77 116.57,256.37 120.44,249.90 124.31,246.02 128.18,248.98 132.05,252.67 135.92,254.52 139.79,252.67 143.66,252.30 147.53,253.04 151.39,256.37 155.26,255.45 159.13,253.97 163.00,251.75 166.87,254.52 170.74,264.69 174.61,268.39 178.48,271.16 182.35,273.93 186.22,274.86 190.08,271.16 193.95,268.02 197.82,263.77 201.69,260.99 205.56,258.59 209.43,262.47 213.30,258.22 217.17,250.83 221.04,244.36 224.91,237.89 228.77,228.64 232.64,223.28 236.51,227.72 240.38,230.49 244.25,233.26 248.12,236.96 251.99,247.31 255.86,255.45 259.73,277.63 263.60,288.72 267.46,292.79 271.33,290.57 275.20,289.64 279.07,287.43 282.94,282.25 286.81,276.70 290.68,268.39 294.55,261.73 298.42,255.45 302.29,249.90 306.15,243.25 310.02,234.19 313.89,225.87 317.76,223.10 321.63,222.73 325.50,224.02 329.37,221.25 333.24,216.63 337.11,211.08 340.98,206.46 344.84,204.61 348.71,203.50 352.58,187.98 356.45,181.51 360.32,175.04 364.19,169.68 368.06,156.55 371.93,144.54 375.80,139.55 379.67,134.74 383.53,113.67 387.40,92.22 391.27,134.92 395.14,138.25 399.01,158.77 402.88,182.43 406.75,233.63 410.62,245.83 414.49,251.38 418.36,253.60 422.22,254.52 426.09,255.08 429.96,248.24 433.83,241.95 437.70,237.33 441.57,234.56 445.44,228.27 449.31,231.79 453.18,227.16 457.05,221.62 460.91,216.81 464.78,209.97 468.65,217.55 472.52,221.62 476.39,214.04 480.26,215.33 484.13,208.68 488.00,207.94 491.87,207.94 495.74,207.94 499.60,219.03 503.47,219.40 507.34,218.11 511.21,216.81 515.08,207.20 518.95,199.07 522.82,197.59 526.69,196.29 530.56,186.68 534.42,190.75 538.29,190.75 542.16,173.00 546.03,180.58 549.90,183.91 553.77,184.46 557.64,190.75 561.51,211.64 565.38,212.56 569.25,215.70 573.12,231.42 576.98,236.04 580.85,243.43 584.72,263.77 588.59,267.46 592.46,270.05 596.33,270.05 600.20,266.35 604.07,259.14 607.94,253.60 611.80,245.83 615.67,243.43 619.54,239.73 623.41,234.93 627.28,226.80 631.15,221.25 635.02,214.41 638.89,206.28 642.76,202.76 646.63,196.11 650.50,185.76 654.36,177.62 658.23,176.15 662.10,189.83 665.97,195.19 669.84,226.80 673.71,234.93 677.58,241.77 681.45,234.93 685.32,228.09 689.18,222.17 693.05,219.40 696.92,217.55 700.79,214.41 704.66,215.70 708.53,210.71 712.40,206.28 716.27,205.91 720.14,213.12 724.01,228.27 727.88,227.16 731.74,224.76 735.61,222.36 739.48,217.74 743.35,211.82 747.22,205.91 751.09,199.62 754.96,194.26 758.83,190.75 762.70,195.56 766.56,197.77 770.43,203.69 774.30,204.43 778.17,225.87 782.04,234.19 785.91,237.70" fill="none" stroke="#1d6fe0" stroke-width="1.75" stroke-linejoin="round"/>
<polygon points="54.67,232.45 59.37,239.25 49.97,239.25" fill="#1d6fe0"/>
<polygon points="58.54,245.58 63.24,252.38 53.84,252.38" fill="#1d6fe0"/>
<polygon points="62.41,252.05 67.11,258.85 57.71,258.85" fill="#1d6fe0"/>
<polygon points="66.28,259.26 70.98,266.06 61.58,266.06" fill="#1d6fe0"/>
<polygon points="70.14,284.77 74.84,291.57 65.44,291.57" fill="#1d6fe0"/>
<polygon points="74.01,294.93 78.71,301.73 69.31,301.73" fill="#1d6fe0"/>
<polygon points="77.88,301.03 82.58,307.83 73.18,307.83" fill="#1d6fe0"/>
<polygon points="81.75,304.73 86.45,311.53 77.05,311.53" fill="#1d6fe0"/>
<polygon points="85.62,304.36 90.32,311.16 80.92,311.16" fill="#1d6fe0"/>
<polygon points="89.49,300.11 94.19,306.91 84.79,306.91" fill="#1d6fe0"/>
<polygon points="93.36,296.41 98.06,303.21 88.66,303.21" fill="#1d6fe0"/>
<polygon points="97.23,289.94 101.93,296.74 92.53,296.74" fill="#1d6fe0"/>
<polygon points="101.10,282.55 105.80,289.35 96.40,289.35" fill="#1d6fe0"/>
<polygon points="104.97,275.15 109.67,281.95 100.27,281.95" fill="#1d6fe0"/>
<polygon points="108.84,267.76 113.54,274.56 104.14,274.56" fill="#1d6fe0"/>
<polygon points="112.70,260.37 117.40,267.17 108.00,267.17" fill="#1d6fe0"/>
<polygon points="116.57,252.97 121.27,259.77 111.87,259.77" fill="#1d6fe0"/>
<polygon points="120.44,246.50 125.14,253.30 115.74,253.30" fill="#1d6fe0"/>
<polygon points="124.31,242.62 129.01,249.42 119.61,249.42" fill="#1d6fe0"/>
<polygon points="128.18,245.58 132.88,252.38 123.48,252.38" fill="#1d6fe0"/>
<polygon points="132.05,249.27 136.75,256.07 127.35,256.07" fill="#1d6fe0"/>
<polygon points="135.92,251.12 140.62,257.92 131.22,257.92" fill="#1d6fe0"/>
<polygon points="139.79,249.27 144.49,256.07 135.09,256.07" fill="#1d6fe0"/>
<polygon points="143.66,248.90 148.36,255.70 138.96,255.70" fill="#1d6fe0"/>
<polygon points="147.53,249.64 152.22,256.44 142.83,256.44" fill="#1d6fe0"/>
<polygon points="151.39,252.97 156.09,259.77 146.69,259.77" fill="#1d6fe0"/>
<polygon points="155.26,252.05 159.96,258.85 150.56,258.85" fill="#1d6fe0"/>
<polygon points="159.13,250.57 163.83,257.37 154.43,257.37" fill="#1d6fe0"/>
<polygon points="163.00,248.35 167.70,255.15 158.30,255.15" fill="#1d6fe0"/>
<polygon points="166.87,251.12 171.57,257.92 162.17,257.92" fill="#1d6fe0"/>
<polygon points="170.74,261.29 175.44,268.09 166.04,268.09" fill="#1d6fe0"/>
<polygon points="174.61,264.99 179.31,271.79 169.91,271.79" fill="#1d6fe0"/>
<polygon points="178.48,267.76 183.18,274.56 173.78,274.56" fill="#1d6fe0"/>
<polygon points="182.35,270.53 187.05,277.33 177.65,277.33" fill="#1d6fe0"/>
<polygon points="186.22,271.46 190.92,278.26 181.52,278.26" fill="#1d6fe0"/>
<polygon points="190.08,267.76 194.78,274.56 185.38,274.56" fill="#1d6fe0"/>
<polygon points="193.95,264.62 198.65,271.42 189.25,271.42" fill="#1d6fe0"/>
<polygon points="197.82,260.37 202.52,267.17 193.12,267.17" fill="#1d6fe0"/>
<polygon points="201.69,257.59 206.39,264.39 196.99,264.39" fill="#1d6fe0"/>
<polygon points="205.56,255.19 210.26,261.99 200.86,261.99" fill="#1d6fe0"/>
<polygon points="209.43,259.07 214.13,265.87 204.73,265.87" fill="#1d6fe0"/>
<polygon points="213.30,254.82 218.00,261.62 208.60,261.62" fill="#1d6fe0"/>
<polygon points="217.17,247.43 221.87,254.23 212.47,254.23" fill="#1d6fe0"/>
<polygon points="221.04,240.96 225.74,247.76 216.34,247.76" fill="#1d6fe0"/>
<polygon points="224.91,234.49 229.61,241.29 220.21,241.29" fill="#1d6fe0"/>
<polygon points="228.77,225.24 233.47,232.04 224.07,232.04" fill="#1d6fe0"/>
<polygon points="232.64,219.88 237.34,226.68 227.94,226.68" fill="#1d6fe0"/>
<polygon points="236.51,224.32 241.21,231.12 231.81,231.12" fill="#1d6fe0"/>
<polygon points="240.38,227.09 245.08,233.89 235.68,233.89" fill="#1d6fe0"/>
<polygon points="244.25,229.86 248.95,236.66 239.55,236.66" fill="#1d6fe0"/>
<polygon points="248.12,233.56 252.82,240.36 243.42,240.36" fill="#1d6fe0"/>
<polygon points="251.99,243.91 256.69,250.71 247.29,250.71" fill="#1d6fe0"/>
<polygon points="255.86,252.05 260.56,258.85 251.16,258.85" fill="#1d6fe0"/>
<polygon points="259.73,274.23 264.43,281.03 255.03,281.03" fill="#1d6fe0"/>
<polygon points="263.60,285.32 268.30,292.12 258.90,292.12" fill="#1d6fe0"/>
<polygon points="267.46,289.39 272.16,296.19 262.76,296.19" fill="#1d6fe0"/>
<polygon points="271.33,287.17 276.03,293.97 266.63,293.97" fill="#1d6fe0"/>
<polygon points="275.20,286.24 279.90,293.04 270.50,293.04" fill="#1d6fe0"/>
<polygon points="279.07,284.03 283.77,290.83 274.37,290.83" fill="#1d6fe0"/>
<polygon points="282.94,278.85 287.64,285.65 278.24,285.65" fill="#1d6fe0"/>
<polygon points="286.81,273.30 291.51,280.10 282.11,280.10" fill="#1d6fe0"/>
<polygon points="290.68,264.99 295.38,271.79 285.98,271.79" fill="#1d6fe0"/>
<polygon points="294.55,258.33 299.25,265.13 289.85,265.13" fill="#1d6fe0"/>
<polygon points="298.42,252.05 303.12,258.85 293.72,258.85" fill="#1d6fe0"/>
<polygon points="302.29,246.50 306.99,253.30 297.59,253.30" fill="#1d6fe0"/>
<polygon points="306.15,239.85 310.85,246.65 301.45,246.65" fill="#1d6fe0"/>
<polygon points="310.02,230.79 314.72,237.59 305.32,237.59" fill="#1d6fe0"/>
<polygon points="313.89,222.47 318.59,229.27 309.19,229.27" fill="#1d6fe0"/>
<polygon points="317.76,219.70 322.46,226.50 313.06,226.50" fill="#1d6fe0"/>
<polygon points="321.63,219.33 326.33,226.13 316.93,226.13" fill="#1d6fe0"/>
<polygon points="325.50,220.62 330.20,227.42 320.80,227.42" fill="#1d6fe0"/>
<polygon points="329.37,217.85 334.07,224.65 324.67,224.65" fill="#1d6fe0"/>
<polygon points="333.24,213.23 337.94,220.03 328.54,220.03" fill="#1d6fe0"/>
<polygon points="337.11,207.68 341.81,214.48 332.41,214.48" fill="#1d6fe0"/>
<polygon points="340.98,203.06 345.68,209.86 336.28,209.86" fill="#1d6fe0"/>
<polygon points="344.84,201.21 349.54,208.01 340.14,208.01" fill="#1d6fe0"/>
<polygon points="348.71,200.10 353.41,206.90 344.01,206.90" fill="#1d6fe0"/>
<polygon points="352.58,184.58 357.28,191.38 347.88,191.38" fill="#1d6fe0"/>
<polygon points="356.45,178.11 361.15,184.91 351.75,184.91" fill="#1d6fe0"/>
<polygon points="360.32,171.64 365.02,178.44 355.62,178.44" fill="#1d6fe0"/>
<polygon points="364.19,166.28 368.89,173.08 359.49,173.08" fill="#1d6fe0"/>
<polygon points="368.06,153.15 372.76,159.95 363.36,159.95" fill="#1d6fe0"/>
<polygon points="371.93,141.14 376.63,147.94 367.23,147.94" fill="#1d6fe0"/>
<polygon points="375.80,136.15 380.50,142.95 371.10,142.95" fill="#1d6fe0"/>
<polygon points="379.67,131.34 384.37,138.14 374.97,138.14" fill="#1d6fe0"/>
<polygon points="383.53,110.27 388.23,117.07 378.83,117.07" fill="#1d6fe0"/>
<polygon points="387.40,88.82 392.10,95.62 382.70,95.62" fill="#1d6fe0"/>
<polygon points="391.27,131.52 395.97,138.32 386.57,138.32" fill="#1d6fe0"/>
<polygon points="395.14,134.85 399.84,141.65 390.44,141.65" fill="#1d6fe0"/>
<polygon points="399.01,155.37 403.71,162.17 394.31,162.17" fill="#1d6fe0"/>
<polygon points="402.88,179.03 407.58,185.83 398.18,185.83" fill="#1d6fe0"/>
<polygon points="406.75,230.23 411.45,237.03 402.05,237.03" fill="#1d6fe0"/>
<polygon points="410.62,242.43 415.32,249.23 405.92,249.23" fill="#1d6fe0"/>
<polygon points="414.49,247.98 419.19,254.78 409.79,254.78" fill="#1d6fe0"/>
<polygon points="418.36,250.20 423.06,257.00 413.66,257.00" fill="#1d6fe0"/>
<polygon points="422.22,251.12 426.92,257.92 417.52,257.92" fill="#1d6fe0"/>
<polygon points="426.09,251.68 430.79,258.48 421.39,258.48" fill="#1d6fe0"/>
<polygon points="429.96,244.84 434.66,251.64 425.26,251.64" fill="#1d6fe0"/>
<polygon points="433.83,238.55 438.53,245.35 429.13,245.35" fill="#1d6fe0"/>
<polygon points="437.70,233.93 442.40,240.73 433.00,240.73" fill="#1d6fe0"/>
<polygon points="441.57,231.16 446.27,237.96 436.87,237.96" fill="#1d6fe0"/>
<polygon points="445.44,224.87 450.14,231.67 440.74,231.67" fill="#1d6fe0"/>
<polygon points="449.31,228.39 454.01,235.19 444.61,235.19" fill="#1d6fe0"/>
<polygon points="453.18,223.76 457.88,230.56 448.48,230.56" fill="#1d6fe0"/>
<polygon points="457.05,218.22 461.75,225.02 452.35,225.02" fill="#1d6fe0"/>
<polygon points="460.91,213.41 465.61,220.21 456.21,220.21" fill="#1d6fe0"/>
<polygon points="464.78,206.57 469.48,213.37 460.08,213.37" fill="#1d6fe0"/>
<polygon points="468.65,214.15 473.35,220.95 463.95,220.95" fill="#1d6fe0"/>
<polygon points="472.52,218.22 477.22,225.02 467.82,225.02" fill="#1d6fe0"/>
<polygon points="476.39,210.64 481.09,217.44 471.69,217.44" fill="#1d6fe0"/>
<polygon points="480.26,211.93 484.96,218.73 475.56,218.73" fill="#1d6fe0"/>
<polygon points="484.13,205.28 488.83,212.08 479.43,212.08" fill="#1d6fe0"/>
<polygon points="488.00,204.54 492.70,211.34 483.30,211.34" fill="#1d6fe0"/>
<polygon points="491.87,204.54 496.57,211.34 487.17,211.34" fill="#1d6fe0"/>
<polygon points="495.74,204.54 500.44,211.34 491.04,211.34" fill="#1d6fe0"/>
<polygon points="499.60,215.63 504.30,222.43 494.90,222.43" fill="#1d6fe0"/>
<polygon points="503.47,216.00 508.17,222.80 498.77,222.80" fill="#1d6fe0"/>
<polygon points="507.34,214.71 512.04,221.51 502.64,221.51" fill="#1d6fe0"/>
<polygon points="511.21,213.41 515.91,220.21 506.51,220.21" fill="#1d6fe0"/>
<polygon points="515.08,203.80 519.78,210.60 510.38,210.60" fill="#1d6fe0"/>
<polygon points="518.95,195.67 523.65,202.47 514.25,202.47" fill="#1d6fe0"/>
<polygon points="522.82,194.19 527.52,200.99 518.12,200.99" fill="#1d6fe0"/>
<polygon points="526.69,192.89 531.39,199.69 521.99,199.69" fill="#1d6fe0"/>
<polygon points="530.56,183.28 535.26,190.08 525.86,190.08" fill="#1d6fe0"/>
<polygon points="534.42,187.35 539.12,194.15 529.72,194.15" fill="#1d6fe0"/>
<polygon points="538.29,187.35 542.99,194.15 533.59,194.15" fill="#1d6fe0"/>
<polygon points="542.16,169.60 546.86,176.40 537.46,176.40" fill="#1d6fe0"/>
<polygon points="546.03,177.18 550.73,183.98 541.33,183.98" fill="#1d6fe0"/>
<polygon points="549.90,180.51 554.60,187.31 545.20,187.31" fill="#1d6fe0"/>
<polygon points="553.77,181.06 558.47,187.86 549.07,187.86" fill="#1d6fe0"/>
<polygon points="557.64,187.35 562.34,194.15 552.94,194.15" fill="#1d6fe0"/>
<polygon points="561.51,208.24 566.21,215.04 556.81,215.04" fill="#1d6fe0"/>
<polygon points="565.38,209.16 570.08,215.96 560.68,215.96" fill="#1d6fe0"/>
<polygon points="569.25,212.30 573.95,219.10 564.55,219.10" fill="#1d6fe0"/>
<polygon points="573.12,228.02 577.82,234.82 568.41,234.82" fill="#1d6fe0"/>
<polygon points="576.98,232.64 581.68,239.44 572.28,239.44" fill="#1d6fe0"/>
<polygon points="580.85,240.03 585.55,246.83 576.15,246.83" fill="#1d6fe0"/>
<polygon points="584.72,260.37 589.42,267.17 580.02,267.17" fill="#1d6fe0"/>
<polygon points="588.59,264.06 593.29,270.86 583.89,270.86" fill="#1d6fe0"/>
<polygon points="592.46,266.65 597.16,273.45 587.76,273.45" fill="#1d6fe0"/>
<polygon points="596.33,266.65 601.03,273.45 591.63,273.45" fill="#1d6fe0"/>
<polygon points="600.20,262.95 604.90,269.75 595.50,269.75" fill="#1d6fe0"/>
<polygon points="604.07,255.74 608.77,262.54 599.37,262.54" fill="#1d6fe0"/>
<polygon points="607.94,250.20 612.64,257.00 603.24,257.00" fill="#1d6fe0"/>
<polygon points="611.80,242.43 616.50,249.23 607.10,249.23" fill="#1d6fe0"/>
<polygon points="615.67,240.03 620.37,246.83 610.97,246.83" fill="#1d6fe0"/>
<polygon points="619.54,236.33 624.24,243.13 614.84,243.13" fill="#1d6fe0"/>
<polygon points="623.41,231.53 628.11,238.33 618.71,238.33" fill="#1d6fe0"/>
<polygon points="627.28,223.40 631.98,230.20 622.58,230.20" fill="#1d6fe0"/>
<polygon points="631.15,217.85 635.85,224.65 626.45,224.65" fill="#1d6fe0"/>
<polygon points="635.02,211.01 639.72,217.81 630.32,217.81" fill="#1d6fe0"/>
<polygon points="638.89,202.88 643.59,209.68 634.19,209.68" fill="#1d6fe0"/>
<polygon points="642.76,199.36 647.46,206.16 638.06,206.16" fill="#1d6fe0"/>
<polygon points="646.63,192.71 651.33,199.51 641.93,199.51" fill="#1d6fe0"/>
<polygon points="650.50,182.36 655.20,189.16 645.79,189.16" fill="#1d6fe0"/>
<polygon points="654.36,174.22 659.06,181.02 649.66,181.02" fill="#1d6fe0"/>
<polygon points="658.23,172.75 662.93,179.55 653.53,179.55" fill="#1d6fe0"/>
<polygon points="662.10,186.43 666.80,193.23 657.40,193.23" fill="#1d6fe0"/>
<polygon points="665.97,191.79 670.67,198.59 661.27,198.59" fill="#1d6fe0"/>
<polygon points="669.84,223.40 674.54,230.20 665.14,230.20" fill="#1d6fe0"/>
<polygon points="673.71,231.53 678.41,238.33 669.01,238.33" fill="#1d6fe0"/>
<polygon points="677.58,238.37 682.28,245.17 672.88,245.17" fill="#1d6fe0"/>
<polygon points="681.45,231.53 686.15,238.33 676.75,238.33" fill="#1d6fe0"/>
<polygon points="685.32,224.69 690.02,231.49 680.62,231.49" fill="#1d6fe0"/>
<polygon points="689.18,218.77 693.88,225.57 684.48,225.57" fill="#1d6fe0"/>
<polygon points="693.05,216.00 697.75,222.80 688.35,222.80" fill="#1d6fe0"/>
<polygon points="696.92,214.15 701.62,220.95 692.22,220.95" fill="#1d6fe0"/>
<polygon points="700.79,211.01 705.49,217.81 696.09,217.81" fill="#1d6fe0"/>
<polygon points="704.66,212.30 709.36,219.10 699.96,219.10" fill="#1d6fe0"/>
<polygon points="708.53,207.31 713.23,214.11 703.83,214.11" fill="#1d6fe0"/>
<polygon points="712.40,202.88 717.10,209.68 707.70,209.68" fill="#1d6fe0"/>
<polygon points="716.27,202.51 720.97,209.31 711.57,209.31" fill="#1d6fe0"/>
<polygon points="720.14,209.72 724.84,216.52 715.44,216.52" fill="#1d6fe0"/>
<polygon points="724.01,224.87 728.71,231.67 719.31,231.67" fill="#1d6fe0"/>
<polygon points="727.88,223.76 732.58,230.56 723.17,230.56" fill="#1d6fe0"/>
<polygon points="731.74,221.36 736.44,228.16 727.04,228.16" fill="#1d6fe0"/>
<polygon points="735.61,218.96 740.31,225.76 730.91,225.76" fill="#1d6fe0"/>
<polygon points="739.48,214.34 744.18,221.14 734.78,221.14" fill="#1d6fe0"/>
<polygon points="743.35,208.42 748.05,215.22 738.65,215.22" fill="#1d6fe0"/>
<polygon points="747.22,202.51 751.92,209.31 742.52,209.31" fill="#1d6fe0"/>
<polygon points="751.09,196.22 755.79,203.02 746.39,203.02" fill="#1d6fe0"/>
<polygon points="754.96,190.86 759.66,197.66 750.26,197.66" fill="#1d6fe0"/>
<polygon points="758.83,187.35 763.53,194.15 754.13,194.15" fill="#1d6fe0"/>
<polygon points="762.70,192.16 767.40,198.96 758.00,198.96" fill="#1d6fe0"/>
<polygon points="766.56,194.37 771.26,201.17 761.86,201.17" fill="#1d6fe0"/>
<polygon points="770.43,200.29 775.13,207.09 765.73,207.09" fill="#1d6fe0"/>
<polygon points="774.30,201.03 779.00,207.83 769.60,207.83" fill="#1d6fe0"/>
<polygon points="778.17,222.47 782.87,229.27 773.47,229.27" fill="#1d6fe0"/>
<polygon points="782.04,230.79 786.74,237.59 777.34,237.59" fill="#1d6fe0"/>
<polygon points="785.91,234.30 790.61,241.10 781.21,241.10" fill="#1d6fe0"/>
<rect x="643.5" y="396.5" width="118.5" height="50.5" fill="#fff" stroke="#6b6b6b" stroke-width="1"/>
<line x1="645" y1="405.2" x2="684.5" y2="405.2" stroke="#505050" stroke-width="1.75"/>
<rect x="660.80" y="402.35" width="7.4" height="5.7" fill="#505050"/>
<text transform="translate(688.4,409.7) scale(1.3,1)" font-family="Liberation Serif" font-size="13.2" fill="#000">Test One</text>
<line x1="645" y1="421.6" x2="684.5" y2="421.6" stroke="#f03c3f" stroke-width="1.75"/>
<ellipse cx="664.50" cy="421.60" rx="4.0" ry="3.1" fill="#f03c3f"/>
<text transform="translate(688.4,426.0) scale(1.3,1)" font-family="Liberation Serif" font-size="13.2" fill="#000">Test Two</text>
<line x1="645" y1="437.9" x2="684.5" y2="437.9" stroke="#1d6fe0" stroke-width="1.75"/>
<polygon points="664.50,434.50 669.20,441.30 659.80,441.30" fill="#1d6fe0"/>
<text transform="translate(688.4,442.2) scale(1.3,1)" font-family="Liberation Serif" font-size="13.2" fill="#000">Test Three</text>
</svg>
</body></html>
